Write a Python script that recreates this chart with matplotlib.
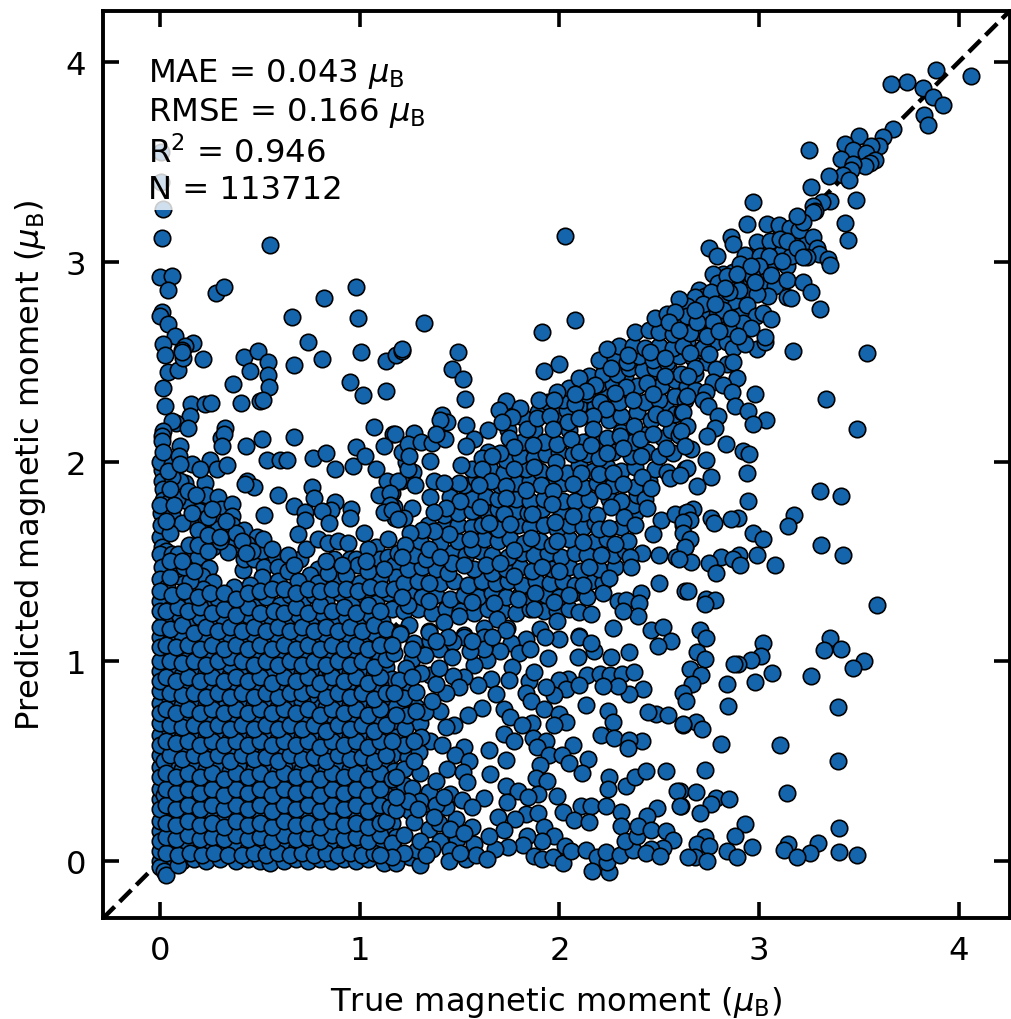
#!/usr/bin/env python3
# parity plot of magnetic moments
import numpy as np
import matplotlib
matplotlib.use('Agg')
import matplotlib.pyplot as plt

# (true, predicted), top right end of the diagonal
tail_pts = [(3.886,3.96),(4.06,3.93),(3.74,3.90),(3.66,3.89),(3.82,3.87),(3.87,3.825),(3.92,3.785),(3.825,3.735),(3.845,3.685),
(3.67,3.665),(3.62,3.625),(3.50,3.63),(3.43,3.59),(3.60,3.58),(3.56,3.58),(3.47,3.56),(3.536,3.545),(3.25,3.56),(3.41,3.515),
(3.58,3.51),(3.555,3.495),(3.53,3.48),(3.47,3.49),(3.46,3.46),(3.42,3.435),(3.45,3.41),(3.35,3.43),(3.26,3.375),(3.485,3.31),
(3.355,3.305),(3.315,3.30),(2.97,3.30),(3.27,3.28),(3.28,3.255),(3.27,3.25),(3.43,3.195),(3.445,3.11),(2.94,3.19),(3.04,3.19),
(3.10,3.185),(3.155,3.17),(3.20,3.16),(3.22,3.20),(3.19,3.23),(2.86,3.125),(2.87,3.09),(2.75,3.07),(2.79,3.03),(2.99,3.10),
(3.055,3.105),(3.105,3.115),(3.14,3.105),(3.27,3.125),(3.19,3.07),(3.29,3.07),(3.30,3.04),(3.24,3.025),(3.22,3.025),(3.345,3.015),
(3.355,2.985),(2.93,3.035),(3.005,3.03),(3.05,3.03),(3.115,3.005),(2.905,2.99),(3.0,2.98),(3.06,2.935),(2.77,2.94),(2.92,2.925),
(2.965,2.93),(2.88,2.905),(3.14,2.91),(3.22,2.90),(3.26,2.85),(3.14,2.825),(3.16,2.82),(3.305,2.765),(3.045,2.83),(2.94,2.85),
(2.99,2.84),(2.795,2.895),(2.84,2.93),(2.73,2.83),(2.68,2.825),(2.87,2.805),(2.805,2.81),(2.765,2.765),(2.82,2.76),(2.94,2.785),
(2.71,2.75),(2.64,2.78),(2.60,2.815),(2.64,2.73),(2.985,2.73),(3.02,2.745),(3.06,2.715),(2.92,2.695),(2.96,2.67),(2.77,2.70),
(2.845,2.67),(2.655,2.645),(2.74,2.63),(2.895,2.63),(2.80,2.655),(3.03,2.625),(2.69,2.70),(2.90,2.86),(2.96,2.98),(2.98,2.90),
(2.85,2.85),(2.89,2.94),(2.76,2.85),(2.83,2.87),(2.72,2.79),(2.78,2.79),(2.86,2.72),(2.68,2.76),(2.58,2.75),(2.55,2.70),(2.60,2.66)]

# sparse points above the band and along the left side
upper_pts = [(0.005,3.55),(0.005,3.40),(0.015,3.265),(0.01,3.12),(0.55,3.085),(0.00,2.925),(0.06,2.93),(0.04,2.86),(0.28,2.845),
(0.32,2.875),(0.98,2.875),(0.82,2.82),(0.66,2.725),(0.99,2.72),(1.32,2.695),(0.01,2.75),(0.0,2.73),(0.04,2.69),(0.075,2.63),
(0.015,2.59),(0.165,2.595),(0.125,2.58),(0.11,2.56),(0.74,2.60),(0.025,2.535),(0.04,2.45),(0.09,2.46),(0.115,2.52),(0.11,2.55),
(0.215,2.515),(0.015,2.37),(0.025,2.28),(0.155,2.29),(0.225,2.29),(0.255,2.295),(0.15,2.23),(0.08,2.195),(0.06,2.205),(0.14,2.17),
(0.015,2.155),(0.01,2.13),(0.01,2.105),(0.015,2.05),(0.10,2.08),(0.095,2.03),(0.325,2.17),(0.305,2.12),(0.32,2.14),(0.31,2.08),
(0.25,2.01),(0.16,1.99),(0.20,1.96),(0.285,1.96),(0.335,1.98),(0.10,1.99),(0.42,2.525),(0.49,2.555),(0.54,2.50),(0.45,2.455),
(0.54,2.435),(0.545,2.375),(0.365,2.39),(0.405,2.295),(0.50,2.305),(0.515,2.31),(0.67,2.485),(0.81,2.515),(1.007,2.55),(1.13,2.505),
(1.18,2.535),(1.21,2.555),(0.95,2.40),(1.014,2.335),(1.13,2.355),(0.51,2.115),(0.43,2.08),(0.67,2.125),(0.535,2.01),(0.60,2.01),
(0.635,2.01),(0.765,2.02),(0.83,2.045),(0.875,1.96),(0.965,1.975),(0.98,2.075),(1.027,2.03),(1.07,2.175),(1.165,2.14),(1.12,2.08),
(1.08,1.96),(0.435,1.90),(0.47,1.87),(0.425,1.885),(0.59,1.83),(0.76,1.87),(0.77,1.815),(0.67,1.775),(0.727,1.745),(0.725,1.705),
(0.52,1.73),(0.877,1.795),(0.855,1.755),(0.81,1.75),(0.847,1.69),(0.955,1.76),(0.95,1.715),(1.02,1.64),(0.69,1.635),(1.135,1.90),
(1.19,1.90),(1.097,1.83),(1.153,1.84),(1.153,1.78),(1.12,1.745),(1.16,1.755),(1.19,1.71),(1.23,2.0),(1.21,2.05),(1.24,1.96),
(1.21,2.565),(1.49,2.55),(1.46,2.465),(1.515,2.415),(1.525,2.315),(1.92,2.455),(2.0,2.49),(1.41,2.235),(1.435,2.2),(1.53,2.185),
(1.175,2.14),(1.27,2.145),(1.24,2.09),(1.305,2.10),(1.36,2.095),(1.425,2.115),(1.57,2.115),(1.53,2.08),(1.245,2.03),(1.35,2.005),
(1.505,1.985),(2.03,3.13),(1.91,2.65),(2.08,2.71),(1.40,2.21),(1.38,2.14)]

# main band along the diagonal
band_pts = [(1.64,2.16),(1.73,2.305),(1.695,2.26),(1.80,2.27),(1.76,2.225),(1.71,2.2),(1.835,2.165),(1.895,2.31),(1.99,2.35),(1.97,2.31),
(1.885,2.22),(1.95,2.23),(2.045,2.2),(2.10,2.42),(2.18,2.385),(2.135,2.355),(2.08,2.34),(2.24,2.565),(2.26,2.47),(2.345,2.535),
(2.455,2.55),(2.53,2.52),(2.62,2.58),(2.44,2.395),(2.53,2.43),(2.335,2.375),(2.28,2.345),(2.205,2.30),(2.47,2.34),(2.37,2.31),
(2.235,2.265),(2.17,2.23),(2.1,2.22),(2.485,2.24),(2.615,2.25),(2.53,2.22),(2.375,2.18),(2.305,2.13),(2.17,2.165),(1.965,2.165),
(2.06,2.115),(2.405,2.115),(2.47,2.14),(2.6,2.135),(2.57,2.045),(2.535,2.07),(2.41,2.03),(2.32,2.07),(2.24,2.045),(2.1,2.05),
(2.16,2.085),(1.98,2.0),(1.865,2.085),(1.745,2.12),(1.77,2.075),(1.70,2.045),(1.61,2.02),(1.66,2.03),(1.77,1.96),(1.61,1.96),
(1.655,1.90),(1.73,1.875),(1.87,1.97),(1.97,1.94),(2.11,1.94),(2.2,1.935),(2.27,1.94),(2.415,1.92),(2.54,1.945),(2.63,1.96),
(2.555,1.915),(1.905,1.88),(2.07,1.885),(2.22,1.85),(2.32,1.885),(2.43,1.81),(2.46,1.865),(1.965,1.85),(1.83,1.855),(1.73,1.815),
(1.595,1.88),(1.495,1.89),(1.37,1.90),(1.265,1.945),(1.205,1.90),(1.275,1.88),(1.42,1.89),(1.35,1.82),(1.26,1.765),(1.22,1.715),
(1.175,1.715),(1.17,1.77),(1.16,1.84),(1.50,1.80),(1.43,1.765),(1.37,1.745),(1.60,1.77),(1.72,1.735),(1.86,1.735),(1.96,1.785),
(2.07,1.725),(1.975,1.695),(2.26,1.77),(2.325,1.72),(2.44,1.765),(2.38,1.68),(2.2,1.66),(2.25,1.665),(2.51,1.705),(2.47,1.635),
(2.63,1.74),(2.58,1.735),(2.62,1.68),(2.63,1.57),(2.5,1.53),(2.585,1.52),(2.415,1.54),(2.345,1.60),(2.28,1.585),(2.12,1.595),
(1.99,1.6),(1.855,1.615),(1.645,1.69),(1.75,1.685),(1.55,1.61),(1.445,1.635),(1.37,1.65),(1.31,1.655),(1.25,1.64),(1.225,1.58),
(1.345,1.56),(1.21,1.52),(1.46,1.49),(1.40,1.52),(1.52,1.48),(1.63,1.48),(1.70,1.49),(1.77,1.555),(1.77,1.425),(1.91,1.47),
(2.0,1.45),(2.15,1.47),(2.21,1.53),(2.355,1.52),(2.36,1.47),(2.25,1.415),(2.12,1.38),(2.41,1.34),(2.5,1.39),(2.63,1.35),
(2.22,1.34),(2.295,1.30),(2.335,1.305),(2.4,1.29),(2.05,1.33),(1.875,1.34),(1.345,1.39),(1.345,1.30),(1.24,1.28),(1.21,1.32),
(1.56,1.295),(1.67,1.29),(1.79,1.31),(1.97,1.295),(2.1,1.245),(1.87,1.26),(1.735,1.165),(1.685,1.21),(1.62,1.165),(1.495,1.225),
(1.42,1.195),(1.345,1.15),(1.245,1.18),(1.20,1.14),(1.52,1.13),(1.985,1.2),(2.16,1.235),(2.27,1.165),(2.395,1.225),(2.46,1.155),
(2.52,1.17),(2.32,1.25),(2.1,1.125),(1.9,1.16)]

# band interior, read row by row where single markers cannot be told apart
band_fill = [(1.22,1.25),(1.29,1.26),(1.36,1.24),(1.43,1.26),(1.50,1.25),(1.57,1.24),(1.64,1.26),(1.71,1.25),(1.78,1.24),(1.85,1.26),(1.92,1.25),(1.99,1.25),(2.05,1.26),
(1.25,1.33),(1.31,1.32),(1.38,1.33),(1.45,1.31),(1.52,1.33),(1.59,1.32),(1.66,1.34),(1.73,1.32),(1.80,1.33),(1.86,1.31),(1.93,1.33),(2.00,1.32),(2.07,1.34),(2.14,1.32),
(1.22,1.39),(1.29,1.40),(1.40,1.39),(1.47,1.40),(1.54,1.38),(1.61,1.40),(1.68,1.39),(1.74,1.40),(1.81,1.38),(1.88,1.40),(1.95,1.39),(2.02,1.40),(2.08,1.38),(2.16,1.40),(2.22,1.39),
(1.24,1.46),(1.31,1.47),(1.38,1.46),(1.44,1.44),(1.57,1.46),(1.66,1.44),(1.73,1.46),(1.80,1.47),(1.86,1.45),(1.96,1.46),(2.05,1.47),(2.11,1.45),(2.20,1.46),(2.28,1.47),
(1.27,1.53),(1.33,1.51),(1.46,1.54),(1.53,1.53),(1.60,1.55),(1.66,1.53),(1.74,1.52),(1.81,1.54),(1.87,1.53),(1.94,1.54),(2.01,1.52),(2.08,1.54),(2.14,1.53),(2.27,1.53),
(1.30,1.60),(1.40,1.59),(1.49,1.60),(1.56,1.56),(1.62,1.61),(1.69,1.60),(1.75,1.61),(1.82,1.59),(1.90,1.60),(1.96,1.58),(2.05,1.61),(2.18,1.60),(2.24,1.61),(2.33,1.55),
(1.34,1.68),(1.42,1.67),(1.49,1.68),(1.56,1.67),(1.61,1.68),(1.69,1.66),(1.79,1.68),(1.85,1.67),(1.92,1.68),(1.99,1.66),(2.05,1.68),(2.12,1.67),(2.18,1.69),(2.31,1.67),(2.38,1.74),
(1.42,1.73),(1.49,1.74),(1.56,1.75),(1.64,1.74),(1.69,1.76),(1.78,1.75),(1.84,1.74),(1.91,1.76),(2.01,1.75),(2.12,1.74),(2.19,1.73),(2.37,1.78),
(1.45,1.82),(1.56,1.81),(1.63,1.82),(1.69,1.81),(1.78,1.81),(1.85,1.80),(1.92,1.81),(2.02,1.80),(2.08,1.80),(2.15,1.81),(2.25,1.81),(2.31,1.80),(2.39,1.83),
(1.52,1.88),(1.58,1.91),(1.70,1.88),(1.78,1.89),(1.85,1.90),(1.94,1.90),(2.02,1.89),(2.12,1.87),(2.19,1.89),(2.27,1.88),(2.38,1.87),(2.45,1.90),
(1.56,1.96),(1.65,1.96),(1.72,1.94),(1.83,1.96),(1.90,1.95),(2.04,1.94),(2.10,1.98),(2.17,1.95),(2.24,1.97),(2.31,1.95),(2.38,1.97),(2.48,1.96),
(1.64,2.05),(1.73,2.01),(1.80,2.03),(1.87,2.02),(1.93,2.04),(2.00,2.05),(2.07,2.04),(2.14,2.04),(2.20,2.02),(2.27,2.05),(2.36,2.03),(2.44,2.05),(2.50,2.03),
(1.74,2.16),(1.81,2.10),(1.87,2.16),(1.92,2.10),(1.99,2.09),(2.05,2.16),(2.12,2.10),(2.18,2.10),(2.24,2.12),(2.31,2.15),(2.37,2.10),(2.44,2.14),(2.52,2.12),(2.56,2.16),
(1.82,2.22),(1.89,2.25),(1.98,2.24),(2.04,2.26),(2.10,2.28),(2.18,2.28),(2.25,2.21),(2.31,2.23),(2.39,2.25),(2.46,2.21),(2.53,2.28),(2.58,2.24),
(1.94,2.30),(2.02,2.31),(2.08,2.29),(2.14,2.34),(2.23,2.34),(2.30,2.30),(2.36,2.35),(2.43,2.30),(2.50,2.31),(2.58,2.33),(2.63,2.31),
(2.05,2.37),(2.11,2.36),(2.20,2.39),(2.27,2.39),(2.33,2.42),(2.39,2.38),(2.45,2.44),(2.51,2.38),(2.58,2.41),(2.64,2.38),(2.68,2.36),
(2.15,2.43),(2.22,2.44),(2.29,2.44),(2.35,2.47),(2.42,2.46),(2.48,2.47),(2.55,2.46),(2.61,2.44),(2.68,2.44),
(2.20,2.51),(2.28,2.52),(2.34,2.50),(2.40,2.53),(2.47,2.51),(2.54,2.50),(2.60,2.53),(2.67,2.52),(2.74,2.50),
(2.30,2.58),(2.37,2.58),(2.43,2.57),(2.50,2.58),(2.57,2.57),(2.64,2.60),(2.71,2.56),(2.78,2.60),
(2.38,2.65),(2.45,2.66),(2.50,2.65),(2.57,2.64),(2.63,2.68),(2.70,2.65),(2.78,2.66),(2.84,2.60),
(2.48,2.72),(2.54,2.74),(2.60,2.72),(2.67,2.74),(2.73,2.72),(2.80,2.73),(2.88,2.74),
(2.62,2.79),(2.68,2.80),(2.76,2.80),(2.83,2.80),(2.90,2.80),(2.92,2.76),
(2.70,2.86),(2.79,2.85),(2.86,2.87),(2.92,2.87),(2.98,2.86),
(2.82,2.94),(2.87,2.95),(2.94,2.93),(3.00,2.93),(3.04,2.88),(3.08,2.88),
(2.92,3.00),(2.98,3.04),(3.03,2.99),(3.08,3.00),(3.14,2.98),(3.10,3.06),(3.16,3.03),(3.04,3.08),(3.10,3.12),(3.17,3.12),(3.24,3.10)]

# right hand side below the band
lower_pts = [(3.17,2.555),(3.54,2.545),(2.87,2.57),(2.99,2.565),(3.03,2.60),(2.93,2.59),(2.72,2.57),(2.655,2.545),(2.75,2.54),(2.84,2.49),
(2.87,2.50),(2.68,2.47),(2.785,2.465),(2.645,2.43),(2.89,2.42),(2.77,2.40),(2.82,2.385),(2.865,2.35),(2.98,2.34),(3.335,2.315),
(2.735,2.35),(2.64,2.33),(2.72,2.31),(2.745,2.28),(2.88,2.28),(2.945,2.255),(2.62,2.25),(2.795,2.23),(3.035,2.21),(2.97,2.19),
(3.49,2.165),(2.78,2.17),(2.64,2.18),(2.74,2.13),(2.61,2.155),(2.835,2.09),(2.92,2.055),(2.95,2.04),(2.66,2.065),(2.63,2.08),
(2.735,2.01),(2.64,1.965),(2.94,1.94),(2.76,1.92),(2.605,1.93),(2.69,1.875),(3.305,1.85),(3.41,1.825),(2.945,1.80),(2.67,1.76),
(2.64,1.745),(2.76,1.715),(2.775,1.69),(2.895,1.715),(2.86,1.71),(3.175,1.73),(3.145,1.675),(2.655,1.705),(2.62,1.695),(2.97,1.64),
(3.02,1.61),(2.62,1.64),(2.655,1.61),(2.63,1.57),(3.31,1.58),(3.42,1.53),(2.90,1.53),(2.81,1.52),(2.87,1.51),(2.99,1.53),
(2.905,1.48),(3.08,1.48),(2.66,1.495),(2.75,1.49),(2.785,1.44),(2.60,1.51),(2.645,1.35),(2.735,1.31),(2.78,1.305),(2.73,1.285),
(3.59,1.28),(2.705,1.155),(2.735,1.115),(3.02,1.09),(3.355,1.115),(3.325,1.055),(3.41,1.06),(3.525,1.0),(3.47,0.965),(2.69,1.045),
(2.73,1.01),(3.01,1.025),(2.96,1.005),(2.895,0.985),(2.875,0.985),(2.655,0.96),(2.71,0.93),(3.065,0.94),(2.98,0.895),(3.26,0.925),
(2.84,0.885),(2.665,0.885),(2.62,0.84),(2.635,0.80),(2.845,0.775),(3.395,0.77),(2.685,0.695),(2.715,0.66),(2.62,0.68),(2.81,0.585),
(3.105,0.58),(3.395,0.50),(2.73,0.455),(2.605,0.35),(2.685,0.345),(3.14,0.34),(2.785,0.315),(2.85,0.31),(2.76,0.285),(2.61,0.275),
(2.705,0.24),(2.93,0.185),(2.88,0.125),(3.40,0.165),(2.73,0.12),(2.69,0.085),(2.75,0.075),(2.965,0.07),(3.145,0.085),(3.295,0.09),
(3.125,0.055),(2.84,0.05),(3.40,0.045),(3.49,0.03),(3.255,0.04),(3.19,0.02),(2.89,0.02),(2.68,0.02),(2.74,0.0),
(2.56,1.10),(2.495,1.075),(2.35,1.045),(2.26,1.02),(2.175,1.05),(2.10,1.12),(2.16,1.09),(2.095,1.02),(2.0,1.11),(1.925,1.12),
(1.94,1.015),(1.83,1.11),(1.755,1.09),(1.70,1.05),(1.795,1.04),(1.85,1.06),(1.635,1.005),(1.57,0.98),(1.76,0.97),(1.745,0.905),
(1.845,0.90),(1.87,0.945),(1.655,0.91),(1.59,0.88),(1.68,0.835),(1.52,0.92),(1.465,0.925),(1.495,0.87),(1.43,0.84),(1.38,0.885),
(1.395,0.965),(1.52,1.12),(1.62,1.12),(1.73,1.155),(2.14,0.93),(2.205,0.935),(2.255,0.93),(2.315,0.935),(2.375,0.945),(2.045,0.91),
(2.0,0.905),(2.42,0.86),(2.35,0.835),(2.295,0.875),(2.22,0.875),(2.035,0.86),(2.10,0.88),(1.97,0.83),(1.93,0.87),(1.83,0.84),
(1.855,0.80),(2.135,0.78),(1.92,0.76),(1.72,0.76),(1.61,0.765),(1.54,0.73),(1.75,0.72),(1.47,0.68),(1.43,0.67),(1.40,0.75),
(1.86,0.69),(1.81,0.68),(2.0,0.735),(2.035,0.695),(1.97,0.68),(2.245,0.75),(2.27,0.695),(2.485,0.735),(2.545,0.73),(2.445,0.745),
(2.62,0.685),(2.21,0.63),(2.275,0.615),(2.415,0.60),(2.35,0.605),(2.345,0.565),(1.72,0.635),(1.77,0.60),(1.865,0.615),(1.93,0.60),
(1.885,0.57),(2.07,0.58),(1.945,0.53),(2.015,0.53),(2.145,0.51),(2.05,0.49),(2.115,0.44),(1.90,0.48),(1.88,0.415),(1.935,0.40),
(1.645,0.555),(1.73,0.505),(1.52,0.57),(1.475,0.53),(1.545,0.50),(1.41,0.58),(1.435,0.46),(1.515,0.445),(1.65,0.435),(1.535,0.395),
(1.73,0.375),(1.45,0.335),(1.62,0.315),(1.79,0.35),(1.89,0.335),(1.84,0.32),(1.985,0.325),(1.735,0.295),(1.51,0.305),(2.25,0.42),
(2.245,0.36),(2.335,0.375),(2.38,0.42),(2.435,0.45),(2.535,0.45),(2.59,0.35),(2.605,0.275),(2.11,0.275),(2.16,0.275),(2.235,0.275),
(2.49,0.265),(2.31,0.245),(2.44,0.225),(2.02,0.245),(2.075,0.205),(2.15,0.195),(2.31,0.175),(1.83,0.235),(1.89,0.24),(1.775,0.21),
(1.69,0.22),(1.56,0.27),(1.48,0.21),(1.56,0.17),(1.72,0.155),(1.92,0.17),(1.97,0.125),(1.91,0.10),(1.835,0.125),(1.815,0.08),
(1.74,0.07),(1.675,0.06),(1.645,0.125),(1.57,0.085),(1.485,0.11),(1.40,0.10),(1.45,0.055),(1.445,0.0),(1.53,0.01),(1.58,0.03),
(1.635,0.01),(1.87,0.025),(1.91,0.01),(1.965,0.02),(2.02,-0.01),(2.03,0.075),(2.06,0.05),(2.135,0.055),(2.19,0.02),(2.165,-0.05),
(2.25,-0.055),(2.24,-0.005),(2.235,0.045),(2.305,0.03),(2.37,0.055),(2.33,0.10),(2.39,0.125),(2.395,0.175),(2.46,0.155),(2.535,0.15),
(2.57,0.105),(2.52,0.065),(2.46,0.06),(2.435,0.04),(2.505,0.025),(2.645,0.02),(1.285,0.055),(1.22,0.13),(1.345,0.16),(1.27,0.195),
(1.395,0.19),(1.32,0.285),(1.26,0.365),(1.345,0.345),(1.43,0.27),(1.18,0.255),(1.22,0.46),(1.295,0.545),(1.22,0.58),(1.305,0.62),
(1.225,0.665),(1.325,0.745),(1.235,0.73),(1.22,0.815),(1.305,0.94),(1.23,0.965),(1.395,1.06),(1.325,1.03),(1.17,1.04),(1.2,1.135),
(1.345,1.145),(1.465,1.095),(1.28,0.845),(1.195,0.905),(1.62,1.06),(1.46,1.02),(1.55,1.05),(1.36,0.80),(1.30,0.44),(1.38,0.40),
(1.30,0.30),(1.38,0.28),(1.24,0.30),(1.30,0.10),(1.36,0.06),(1.22,0.04),(1.16,0.02),(1.10,0.03),
(1.18,0.32),(1.18,0.42),(1.27,0.50),(1.16,0.60),(1.27,0.60),(1.18,0.73),(1.28,0.75),(1.17,0.84),(1.26,0.92),(1.16,1.08),(1.26,1.06),
(1.29,0.26),(1.37,0.22),(1.45,0.16),(1.52,0.14),(1.33,0.03),(1.50,0.04),(1.42,0.32),(1.44,1.12),(1.38,1.10),(1.56,1.10),(1.66,1.12)]

# packed block near the origin, plus the crowded edge at x = 0
core_pts = [(0.0,1.62),(0.01,1.57),(0.03,1.55),(0.0,1.535),(0.06,1.535),(0.09,1.535),(0.01,1.47),(0.0,1.41),(0.095,1.425),(0.15,1.505),
(0.19,1.52),(0.247,1.465),(0.21,1.425),(0.267,1.395),(0.217,1.36),(0.117,1.295),(0.033,1.37),(0.033,1.32),(0.414,1.459),(0.42,1.51),
(0.47,1.51),(0.51,1.55),(0.52,1.47),(0.51,1.42),(0.58,1.52),(0.59,1.47),(0.59,1.40),(0.64,1.45),(0.70,1.51),(0.73,1.56),
(0.79,1.61),(0.79,1.46),(0.75,1.43),(0.84,1.59),(0.87,1.51),(0.89,1.60),(0.94,1.59),(0.95,1.51),(0.98,1.51),(0.99,1.48),
(0.89,1.42),(0.79,1.39),(1.00,1.39),(1.08,1.57),(1.14,1.61),(1.07,1.51),(1.10,1.51),(1.14,1.52),(1.17,1.48),(1.19,1.54),
(0.01,1.955),(0.01,1.90),(0.015,1.86),(0.015,1.805),(0.005,1.74),(0.003,1.68),(0.05,1.80),(0.06,1.73),(0.125,1.89),(0.225,1.89),
(0.10,1.90),(0.137,1.80),(0.083,1.81),(0.225,1.795),(0.233,1.83),(0.29,1.82),(0.305,1.76),(0.36,1.785),(0.36,1.725),(0.197,1.75),
(0.21,1.705),(0.28,1.70),(0.15,1.705),(0.11,1.69),(0.19,1.655),(0.29,1.66),(0.36,1.68),(0.42,1.655),(0.485,1.62),(0.515,1.61),
(0.147,1.58),(0.267,1.57),(0.334,1.575),(0.38,1.585),(0.34,1.545),(0.434,1.585),(0.06,1.92),(0.05,1.64),(0.0,1.78),(0.0,2.0),
(0.00,1.30),(0.05,1.26),(0.10,1.22),(0.16,1.29),(0.23,1.27),(0.29,1.31),(0.35,1.26),(0.41,1.31),(0.47,1.27),(0.53,1.32),(0.60,1.28),
(0.65,1.33),(0.71,1.29),(0.77,1.33),(0.83,1.30),(0.90,1.34),(0.96,1.30),(1.02,1.33),(1.08,1.29),(1.14,1.34),(1.18,1.42),(1.10,1.42),
(1.04,1.45),(0.93,1.43),(0.84,1.44),(0.69,1.40),(0.45,1.38),(0.37,1.37),(0.15,1.40),(0.08,1.46),
(0.02,1.20),(0.08,1.16),(0.14,1.20),(0.20,1.22),(0.26,1.17),(0.32,1.21),(0.38,1.18),(0.44,1.23),(0.50,1.19),(0.56,1.21),(0.63,1.18),
(0.69,1.23),(0.75,1.20),(0.81,1.24),(0.87,1.19),(0.93,1.22),(0.99,1.18),(1.05,1.23),(1.11,1.20),(1.16,1.26),
(0.0,1.12),(0.05,1.10),(0.11,1.13),(0.17,1.09),(0.23,1.12),(0.29,1.10),(0.35,1.13),(0.41,1.09),(0.47,1.13),(0.53,1.10),(0.59,1.12),
(0.65,1.09),(0.71,1.13),(0.77,1.10),(0.83,1.13),(0.89,1.09),(0.95,1.12),(1.01,1.10),(1.07,1.14),(1.13,1.10),(1.27,1.09),(1.35,1.10),
(0.02,1.03),(0.08,1.04),(0.14,1.01),(0.20,1.05),(0.26,1.02),(0.32,1.05),(0.38,1.02),(0.44,1.05),(0.50,1.01),(0.56,1.04),(0.62,1.02),
(0.68,1.05),(0.74,1.01),(0.80,1.05),(0.86,1.02),(0.92,1.05),(0.98,1.02),(1.04,1.05),(1.10,1.02),(1.26,1.01),
(0.0,0.95),(0.05,0.97),(0.11,0.93),(0.17,0.97),(0.23,0.94),(0.29,0.96),(0.35,0.93),(0.41,0.97),(0.47,0.94),(0.53,0.96),(0.59,0.93),
(0.65,0.97),(0.71,0.94),(0.77,0.96),(0.83,0.93),(0.89,0.97),(0.95,0.94),(1.01,0.96),(1.07,0.93),(1.13,0.97),(1.16,0.91),(1.35,0.93),
(0.02,0.88),(0.08,0.86),(0.14,0.89),(0.20,0.86),(0.26,0.89),(0.32,0.86),(0.38,0.89),(0.44,0.86),(0.50,0.88),(0.56,0.85),(0.62,0.89),
(0.68,0.86),(0.74,0.88),(0.80,0.85),(0.86,0.89),(0.92,0.86),(0.98,0.88),(1.04,0.85),(1.10,0.88),(1.24,0.89),
(0.0,0.79),(0.05,0.81),(0.11,0.78),(0.17,0.81),(0.23,0.78),(0.29,0.80),(0.35,0.77),(0.41,0.81),(0.47,0.78),(0.53,0.80),(0.59,0.77),
(0.65,0.81),(0.71,0.78),(0.77,0.80),(0.83,0.77),(0.89,0.81),(0.95,0.78),(1.01,0.80),(1.07,0.77),(1.13,0.81),(1.18,0.77),(1.28,0.77),
(0.02,0.72),(0.08,0.70),(0.14,0.73),(0.20,0.70),(0.26,0.72),(0.32,0.69),(0.38,0.73),(0.44,0.70),(0.50,0.72),(0.56,0.69),(0.62,0.73),
(0.68,0.70),(0.74,0.72),(0.80,0.69),(0.86,0.73),(0.92,0.70),(0.98,0.72),(1.04,0.69),(1.10,0.72),(1.16,0.69),(1.30,0.69),
(0.0,0.63),(0.05,0.65),(0.11,0.62),(0.17,0.65),(0.23,0.62),(0.29,0.64),(0.35,0.61),(0.41,0.65),(0.47,0.62),(0.53,0.64),(0.59,0.61),
(0.65,0.65),(0.71,0.62),(0.77,0.64),(0.83,0.61),(0.89,0.65),(0.95,0.62),(1.01,0.64),(1.07,0.61),(1.13,0.65),(1.18,0.62),
(0.02,0.56),(0.08,0.54),(0.14,0.57),(0.20,0.54),(0.26,0.56),(0.32,0.53),(0.38,0.57),(0.44,0.54),(0.50,0.56),(0.56,0.53),(0.62,0.57),
(0.68,0.54),(0.74,0.56),(0.80,0.53),(0.86,0.57),(0.92,0.54),(0.98,0.56),(1.04,0.53),(1.10,0.56),(1.16,0.53),(1.24,0.52),(1.35,0.60),
(0.0,0.47),(0.05,0.49),(0.11,0.46),(0.17,0.49),(0.23,0.46),(0.29,0.48),(0.35,0.45),(0.41,0.49),(0.47,0.46),(0.53,0.48),(0.59,0.45),
(0.65,0.49),(0.71,0.46),(0.77,0.48),(0.83,0.45),(0.89,0.49),(0.95,0.46),(1.01,0.48),(1.07,0.45),(1.13,0.49),(1.17,0.45),
(0.02,0.40),(0.08,0.38),(0.14,0.41),(0.20,0.38),(0.26,0.40),(0.32,0.37),(0.38,0.41),(0.44,0.38),(0.50,0.40),(0.56,0.37),(0.62,0.41),
(0.68,0.38),(0.74,0.40),(0.80,0.37),(0.86,0.41),(0.92,0.38),(0.98,0.40),(1.04,0.37),(1.10,0.40),(1.16,0.37),(1.22,0.38),
(0.0,0.31),(0.05,0.33),(0.11,0.30),(0.17,0.33),(0.23,0.30),(0.29,0.32),(0.35,0.29),(0.41,0.33),(0.47,0.30),(0.53,0.32),(0.59,0.29),
(0.65,0.33),(0.71,0.30),(0.77,0.32),(0.83,0.29),(0.89,0.33),(0.95,0.30),(1.01,0.32),(1.07,0.29),(1.13,0.33),
(0.02,0.24),(0.08,0.22),(0.14,0.25),(0.20,0.22),(0.26,0.24),(0.32,0.21),(0.38,0.25),(0.44,0.22),(0.50,0.24),(0.56,0.21),(0.62,0.25),
(0.68,0.22),(0.74,0.24),(0.80,0.21),(0.86,0.25),(0.92,0.22),(0.98,0.24),(1.04,0.21),(1.10,0.24),(1.16,0.19),(1.25,0.25),
(0.0,0.15),(0.05,0.17),(0.11,0.14),(0.17,0.17),(0.23,0.14),(0.29,0.16),(0.35,0.13),(0.41,0.17),(0.47,0.14),(0.53,0.16),(0.59,0.13),
(0.65,0.17),(0.71,0.14),(0.77,0.16),(0.83,0.13),(0.89,0.17),(0.95,0.14),(1.01,0.16),(1.07,0.13),(1.13,0.14),(1.18,0.12),
(0.02,0.08),(0.08,0.06),(0.14,0.09),(0.20,0.06),(0.26,0.08),(0.32,0.05),(0.38,0.09),(0.44,0.06),(0.50,0.08),(0.56,0.05),(0.62,0.09),
(0.68,0.06),(0.74,0.08),(0.80,0.05),(0.86,0.09),(0.92,0.06),(0.98,0.08),(1.04,0.05),(1.10,0.08),(1.25,0.02),
(0.0,0.0),(0.05,0.01),(0.11,0.0),(0.17,0.01),(0.23,0.0),(0.30,0.01),(0.38,0.0),(0.44,0.01),(0.50,0.0),(0.55,-0.01),(0.62,0.0),
(0.68,0.01),(0.74,0.0),(0.80,0.01),(0.86,0.0),(0.92,0.01),(0.98,0.0),(1.04,0.01),(1.12,-0.01),(1.18,-0.01),(1.30,-0.02),
(0.0,-0.03),(0.02,-0.05),(0.03,-0.07),(0.09,-0.02),(0.0,0.05),(0.0,0.10),(0.0,0.20),(0.0,0.26),(0.0,0.36),(0.0,0.42),(0.0,0.53),
(0.0,0.58),(0.0,0.69),(0.0,0.74),(0.0,0.85),(0.0,0.90),(0.0,1.0),(0.0,1.07),(0.0,1.17),(0.0,1.25),(0.0,1.35),
(0.02,0.50),(0.05,0.38),(0.02,0.33),(0.07,0.30),(0.40,0.93),(0.35,0.98),(0.60,0.86),(0.55,0.92),(0.85,0.95),(0.75,0.83),(0.94,0.89),
(0.36,0.55),(0.33,0.78),(0.71,0.80),(0.27,0.58),(0.39,0.48),(0.06,0.11),(0.31,0.39),(0.62,0.47),(0.46,0.58)]

# second layer of the block, the rows between the ones above
core_fill = [(0.03,0.04),(0.09,0.03),(0.15,0.04),(0.21,0.03),(0.27,0.04),(0.34,0.03),(0.41,0.03),(0.47,0.04),(0.53,0.03),(0.59,0.04),(0.65,0.03),(0.71,0.04),(0.77,0.03),(0.83,0.04),(0.89,0.03),(0.95,0.04),(1.01,0.03),(1.07,0.04),
(0.03,0.12),(0.08,0.11),(0.14,0.13),(0.20,0.11),(0.26,0.12),(0.32,0.11),(0.38,0.13),(0.44,0.11),(0.50,0.12),(0.56,0.10),(0.62,0.13),(0.68,0.11),(0.74,0.12),(0.80,0.10),(0.86,0.13),(0.92,0.11),(0.98,0.12),(1.04,0.10),(1.10,0.13),(1.16,0.09),
(0.03,0.19),(0.08,0.18),(0.14,0.20),(0.20,0.18),(0.26,0.19),(0.32,0.17),(0.38,0.20),(0.44,0.18),(0.50,0.19),(0.56,0.17),(0.62,0.20),(0.68,0.18),(0.74,0.19),(0.80,0.17),(0.86,0.20),(0.92,0.18),(0.98,0.19),(1.04,0.17),(1.10,0.19),(1.13,0.20),
(0.03,0.28),(0.08,0.26),(0.14,0.28),(0.20,0.26),(0.26,0.28),(0.32,0.26),(0.38,0.28),(0.44,0.26),(0.50,0.28),(0.56,0.25),(0.62,0.28),(0.68,0.26),(0.74,0.28),(0.80,0.25),(0.86,0.28),(0.92,0.26),(0.98,0.28),(1.04,0.25),(1.10,0.28),(1.15,0.27),
(0.03,0.36),(0.08,0.34),(0.14,0.36),(0.20,0.34),(0.26,0.36),(0.32,0.33),(0.38,0.36),(0.44,0.34),(0.50,0.36),(0.56,0.33),(0.62,0.36),(0.68,0.34),(0.74,0.36),(0.80,0.33),(0.86,0.36),(0.92,0.34),(0.98,0.36),(1.04,0.33),(1.10,0.36),
(0.03,0.44),(0.08,0.42),(0.14,0.44),(0.20,0.42),(0.26,0.44),(0.32,0.41),(0.38,0.44),(0.44,0.42),(0.50,0.44),(0.56,0.41),(0.62,0.44),(0.68,0.42),(0.74,0.44),(0.80,0.41),(0.86,0.44),(0.92,0.42),(0.98,0.44),(1.04,0.41),(1.10,0.44),(1.16,0.41),
(0.05,0.53),(0.11,0.51),(0.17,0.53),(0.23,0.51),(0.29,0.53),(0.35,0.50),(0.41,0.53),(0.47,0.51),(0.53,0.52),(0.59,0.50),(0.65,0.53),(0.71,0.51),(0.77,0.52),(0.83,0.50),(0.89,0.53),(0.95,0.51),(1.01,0.52),(1.07,0.50),(1.13,0.53),
(0.03,0.60),(0.08,0.59),(0.14,0.60),(0.20,0.58),(0.26,0.60),(0.32,0.58),(0.38,0.60),(0.44,0.58),(0.50,0.60),(0.56,0.58),(0.62,0.60),(0.68,0.58),(0.74,0.60),(0.80,0.57),(0.86,0.60),(0.92,0.58),(0.98,0.60),(1.04,0.57),(1.10,0.60),
(0.05,0.68),(0.11,0.67),(0.17,0.68),(0.23,0.66),(0.29,0.68),(0.35,0.66),(0.41,0.68),(0.47,0.66),(0.53,0.68),(0.59,0.66),(0.65,0.68),(0.71,0.66),(0.77,0.68),(0.83,0.65),(0.89,0.68),(0.95,0.66),(1.01,0.68),(1.07,0.65),(1.13,0.68),
(0.03,0.76),(0.08,0.74),(0.14,0.76),(0.20,0.74),(0.26,0.76),(0.32,0.74),(0.38,0.76),(0.44,0.74),(0.50,0.76),(0.56,0.74),(0.62,0.76),(0.68,0.74),(0.74,0.76),(0.80,0.73),(0.86,0.76),(0.92,0.74),(0.98,0.76),(1.04,0.73),(1.10,0.76),
(0.05,0.84),(0.11,0.83),(0.17,0.84),(0.23,0.82),(0.29,0.84),(0.35,0.82),(0.41,0.84),(0.47,0.82),(0.53,0.84),(0.59,0.82),(0.65,0.84),(0.71,0.84),(0.77,0.86),(0.83,0.82),(0.89,0.84),(0.95,0.82),(1.01,0.84),(1.07,0.81),(1.13,0.84),
(0.03,0.92),(0.08,0.90),(0.14,0.92),(0.20,0.90),(0.26,0.92),(0.32,0.90),(0.38,0.92),(0.44,0.90),(0.50,0.92),(0.56,0.89),(0.62,0.92),(0.68,0.90),(0.74,0.92),(0.80,0.89),(0.86,0.92),(0.92,0.90),(0.98,0.92),(1.04,0.89),(1.10,0.92),
(0.05,1.00),(0.11,0.99),(0.17,1.00),(0.23,0.98),(0.29,1.00),(0.35,1.02),(0.41,1.00),(0.47,0.98),(0.53,1.00),(0.59,0.98),(0.65,1.00),(0.71,0.98),(0.77,1.00),(0.83,0.98),(0.89,1.00),(0.95,0.98),(1.01,1.00),(1.07,0.97),(1.13,1.01),
(0.03,1.08),(0.08,1.07),(0.14,1.08),(0.20,1.06),(0.26,1.08),(0.32,1.06),(0.38,1.08),(0.44,1.06),(0.50,1.08),(0.56,1.06),(0.62,1.08),(0.68,1.06),(0.74,1.08),(0.80,1.06),(0.86,1.08),(0.92,1.06),(0.98,1.08),(1.04,1.06),(1.10,1.08),
(0.05,1.16),(0.11,1.18),(0.17,1.14),(0.23,1.17),(0.29,1.15),(0.35,1.17),(0.41,1.15),(0.47,1.17),(0.53,1.15),(0.59,1.17),(0.65,1.15),(0.71,1.17),(0.77,1.15),(0.83,1.17),(0.89,1.15),(0.95,1.17),(1.01,1.15),(1.07,1.18),(1.13,1.16),
(0.03,1.25),(0.09,1.27),(0.14,1.25),(0.20,1.27),(0.26,1.24),(0.32,1.26),(0.38,1.23),(0.44,1.27),(0.50,1.24),(0.57,1.25),(0.62,1.24),(0.68,1.27),(0.74,1.24),(0.80,1.28),(0.86,1.25),(0.92,1.27),(0.98,1.24),(1.04,1.28),(1.10,1.25),
(0.06,1.33),(0.12,1.35),(0.19,1.32),(0.25,1.34),(0.32,1.34),(0.38,1.31),(0.44,1.34),(0.50,1.35),(0.56,1.36),(0.62,1.36),(0.68,1.34),(0.74,1.36),(0.80,1.35),(0.86,1.36),(0.93,1.36),(0.99,1.35),(1.05,1.37),(1.11,1.36),(1.17,1.36),
(0.05,1.42),(0.12,1.47),(0.17,1.45),(0.05,1.50),(0.11,1.50),(0.19,1.58),(0.24,1.55),(0.30,1.60),(0.38,1.64),(0.46,1.55),(0.56,1.56),(0.64,1.53),(0.67,1.48),(0.83,1.50),(0.91,1.48),(1.04,1.56),(1.03,1.50),(1.12,1.46),
(0.03,1.70),(0.07,1.78),(0.16,1.74),(0.24,1.72),(0.26,1.76),(0.33,1.70),(0.24,1.63),(0.14,1.85),(0.05,1.86),(0.18,1.83),(0.06,1.99),(0.04,1.95),(0.30,1.62),(0.41,1.60),(0.43,1.54)]

mae_text = r'MAE = 0.043 $\mu_{\mathrm{B}}$'
rmse_text = r'RMSE = 0.166 $\mu_{\mathrm{B}}$'
r2_text = r'R$^2$ = 0.946'
n_text = 'N = 113712'
ticks = [0, 1, 2, 3, 4]
lims = [-0.285, 4.255]

pts = np.array(core_pts + core_fill + band_fill + band_pts + lower_pts + upper_pts + tail_pts)

fig = plt.figure(figsize=(1011/200, 1020/200), dpi=200)
ax = fig.add_axes([103/1011, (1020-919.3)/1020, 907/1011, 907.6/1020])

ax.plot(lims, lims, color='black', linestyle='--', lw=1.6, zorder=1)
ax.scatter(pts[:, 0], pts[:, 1], s=35, color='#1565ad', edgecolor='black', linewidth=0.6, zorder=2)

ax.set_xlim(lims)
ax.set_ylim(lims)
ax.set_xticks(ticks)
ax.set_yticks(ticks)
ax.tick_params(direction='in', top=True, right=True, length=5.8, width=1.3, labelsize=11.6, pad=6)
for s in ax.spines.values():
    s.set_linewidth(1.4)

ax.set_xlabel(r'True magnetic moment ($\mu_{\mathrm{B}}$)', fontsize=11.6, labelpad=6.5)
ax.set_ylabel(r'Predicted magnetic moment ($\mu_{\mathrm{B}}$)', fontsize=11.6, labelpad=6.5)

ax.text(0.05, 0.95, '\n'.join([mae_text, rmse_text, r2_text, n_text]), transform=ax.transAxes,
        fontsize=11.6, va='top', ha='left', zorder=3,
        bbox=dict(facecolor='white', edgecolor='none', alpha=0.8, pad=2))

fig.savefig('out.png', dpi=200)
